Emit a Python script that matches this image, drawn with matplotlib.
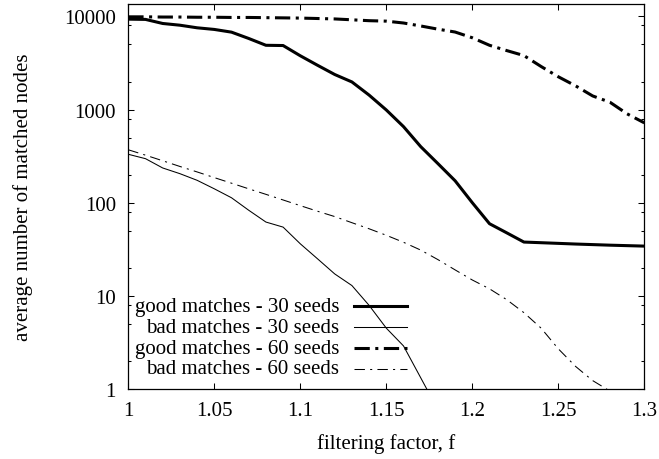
import numpy as np
import matplotlib
matplotlib.use("Agg")
from matplotlib import pyplot as plt
from matplotlib.ticker import LogLocator, FixedLocator, NullFormatter
from matplotlib.lines import Line2D

plt.rcParams['font.family'] = ['Liberation Serif', 'DejaVu Serif']

# filtering factor values
f = [1.00, 1.01, 1.02, 1.03, 1.04, 1.05, 1.06, 1.07, 1.08, 1.09, 1.10,
     1.11, 1.12, 1.13, 1.14, 1.15, 1.16, 1.17, 1.18, 1.19, 1.20,
     1.21, 1.22, 1.23, 1.24, 1.25, 1.26, 1.27, 1.28, 1.29, 1.30]

good30 = [9350, 9290, 8400, 8050, 7550, 7250, 6780, 5800, 4900, 4870, 3780,
          2990, 2380, 1980, 1430, 990, 656, 400, 263, 172, 100,
          59.5, 47.5, 37.8, 37.2, 36.6, 36.0, 35.5, 35.0, 34.6, 34.2]
bad30 = [331, 297, 236, 205, 174, 141, 113, 83, 62, 54.7, 36.2,
         25, 17.2, 12.9, 7.9, 4.5, 2.9, 1.32, 0.6]
good60 = [9900, 9900, 9850, 9850, 9800, 9800, 9750, 9750, 9700, 9650, 9600,
          9500, 9400, 9200, 9000, 8900, 8500, 7900, 7300, 6800, 5900,
          4900, 4300, 3800, 2900, 2250, 1800, 1400, 1200, 900, 720]
bad60 = [370, 324, 282, 245, 214, 186, 162, 141, 123, 107, 93,
         81, 71, 61, 52.5, 44.7, 37.6, 31, 24.5, 19, 14.8,
         11.9, 9.1, 6.6, 4.5, 2.7, 1.75, 1.23, 0.95, 0.7, 0.5]

labels = ['good matches - 30 seeds', 'bad matches - 30 seeds',
          'good matches - 60 seeds', 'bad matches - 60 seeds']

fs = 15
thick = 2.2
thin = 0.75
styles = [dict(lw=thick, ls='-'),
          dict(lw=thin, ls='-'),
          dict(lw=thick, ls=(0, (5, 1.8, 1, 1.8))),
          dict(lw=thin, ls=(0, (10, 5, 2, 5)))]

fig = plt.figure(figsize=(6.59, 4.60), dpi=100)
ax = fig.add_axes([0.1947, 0.1522, 0.7830, 0.8363])

series = [good30, bad30, good60, bad60]
for vals, st in zip(series, styles):
    ax.plot(f[:len(vals)], vals, color='black', solid_joinstyle='round', **st)

ax.set_yscale('log')
ax.set_xlim(1.0, 1.3)
ax.set_ylim(1, 13500)

ax.xaxis.set_major_locator(FixedLocator([1, 1.05, 1.1, 1.15, 1.2, 1.25, 1.3]))
ax.set_xticklabels(['1', '1.05', '1.1', '1.15', '1.2', '1.25', '1.3'])
ax.yaxis.set_major_locator(FixedLocator([1, 10, 100, 1000, 10000]))
ax.set_yticklabels(['1', '10', '100', '1000', '10000'])
ax.yaxis.set_minor_locator(LogLocator(base=10, subs=[2, 5, 8], numticks=20))
ax.yaxis.set_minor_formatter(NullFormatter())

ax.tick_params(which='both', direction='in', top=True, right=True,
               labelsize=fs, width=0.75)
ax.tick_params(which='major', length=4, pad=9)
ax.tick_params(which='minor', length=2)
for sp in ax.spines.values():
    sp.set_linewidth(0.9)

ax.set_xlabel('filtering factor, f', fontsize=fs, labelpad=9)
ax.set_ylabel('average number of matched nodes', fontsize=fs, labelpad=22)

# key drawn gnuplot style: right-aligned text, sample to the right
rows_y = [0.215, 0.160, 0.106, 0.052]
for lab, st, yy in zip(labels, styles, rows_y):
    ax.text(0.409, yy, lab, transform=ax.transAxes, ha='right', va='center',
            fontsize=fs)
    ax.add_line(Line2D([0.438, 0.541], [yy, yy], transform=ax.transAxes,
                       color='black', **st))

fig.savefig('out.png', dpi=100)
